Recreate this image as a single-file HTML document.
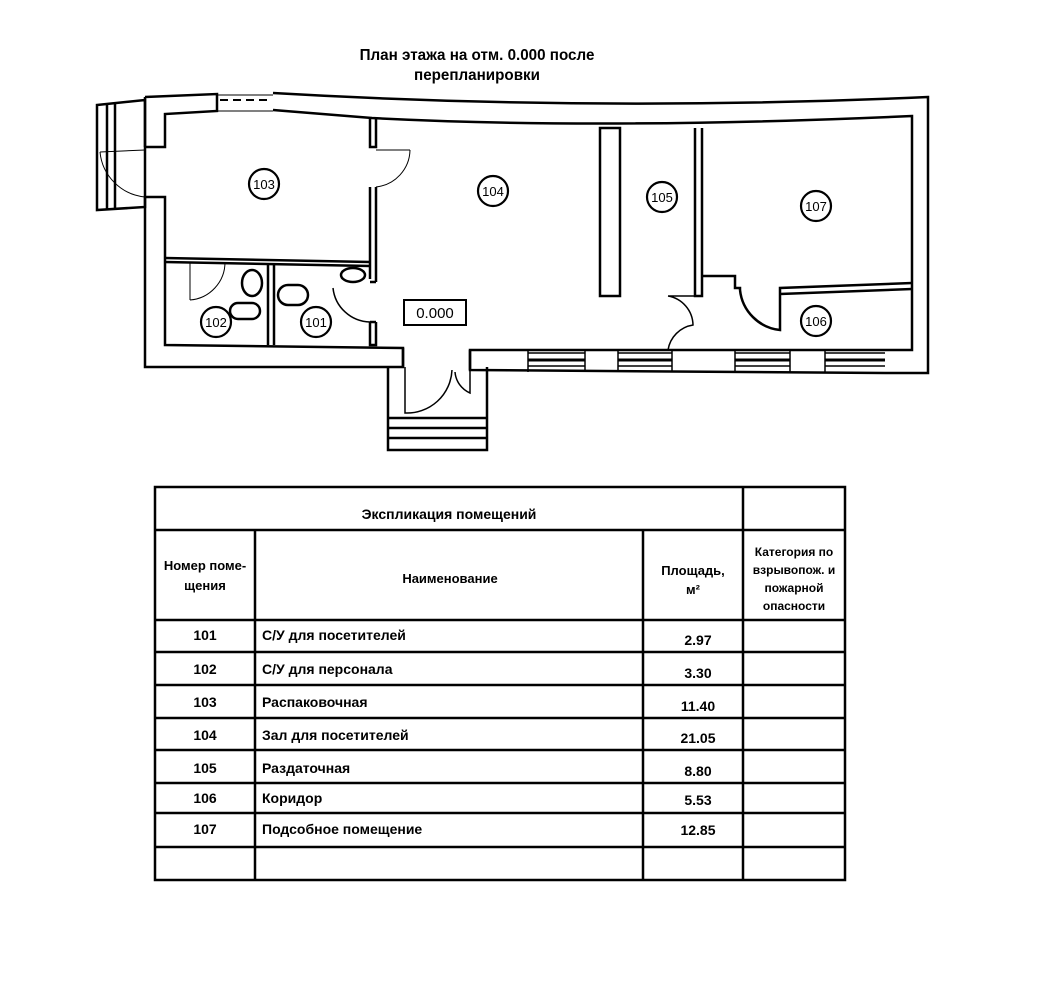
<!DOCTYPE html>
<html><head><meta charset="utf-8"><style>
html,body{margin:0;padding:0;background:#fff}
svg{display:block}
text{font-family:"Liberation Sans",sans-serif;fill:#000}
</style></head><body>
<svg width="1048" height="988" viewBox="0 0 1048 988" xmlns="http://www.w3.org/2000/svg">
<g font-weight="bold" font-size="16" text-anchor="middle">
<text x="477" y="60" transform="translate(477,0) scale(0.95,1) translate(-477,0)">План этажа на отм. 0.000 после</text>
<text x="477" y="80" transform="translate(477,0) scale(0.95,1) translate(-477,0)">перепланировки</text>
</g>
<g fill="none" stroke="#000" stroke-width="2.5">
<path d="M97 105 L145 100 L145 207 L97 210 Z"/>
<path d="M107 104 V209 M115 103 V208"/>
<path d="M100 152 L145 150" stroke-width="1"/>
<path d="M100 152 A50 50 0 0 0 145 197" stroke-width="1"/>
<path d="M145 97 L217 94 V111 L165 114 V147 L145 147"/>
<path d="M145 197 L165 197 V345 L403 348 V367 L145 367 Z"/>
<path d="M145 97 V147"/>
<path d="M217 95 L273 95 M217 111 L273 111" stroke-width="1"/>
<path d="M220 100 H270" stroke-width="2" stroke-dasharray="8 5"/>
<path d="M273 93 Q600 112 928 97 L928 373 L885 373"/>
<path d="M273 110 L372 118 Q600 130 912 116 L912 350 L470 350 L470 370 L885 373"/>
<path d="M528 353 H585 M528 366 H585 M618 353 H672 M618 366 H672 M735 353 H790 M735 366 H790 M825 353 H885 M825 366 H885" stroke-width="1.5"/>
<path d="M528 360 H585 M618 360 H672 M735 360 H790 M825 360 H885" stroke-width="3"/>
<path d="M528 350 V372 M585 350 V372 M618 350 V372 M672 350 V372 M735 350 V372 M790 350 V372 M825 350 V372" stroke-width="1.5"/>
<path d="M370 118 V147 H376 V118 M370 187 V279 M376 187 V282 M370 322 V345 H376 V322 M370 282 H376 M370 322 H376"/>
<path d="M376 150 H410" stroke-width="1"/>
<path d="M410 150 A38 38 0 0 1 376 187" stroke-width="1"/>
<path d="M165 258 L370 262 M165 262 L370 266"/>
<path d="M268 264 V345 M274 264 V345"/>
<path d="M190 262 V300 M190 300 A38 38 0 0 0 225 262" stroke-width="1"/>
<ellipse cx="252" cy="283" rx="10" ry="13"/>
<rect x="230" y="303" width="30" height="16" rx="8"/>
<rect x="278" y="285" width="30" height="20" rx="10"/>
<ellipse cx="353" cy="275" rx="12" ry="7"/>
<path d="M333 288 A38 38 0 0 0 370 322" stroke-width="1.5"/>
<rect x="600" y="128" width="20" height="168"/>
<path d="M695 128 V296 H702 V128"/>
<path d="M668 296 H695 M668 296 A30 30 0 0 1 693 325 A30 30 0 0 0 668 350" stroke-width="1.5"/>
<path d="M702 276 H735 V288 H740 V290"/>
<path d="M740 290 A45 45 0 0 0 780 330 V288 L912 283 M780 294 L912 289"/>
<path d="M403 348 V367 M470 350 V370"/>
<path d="M388 367 V450 H487 V367"/>
<path d="M405 367 V413 A45 45 0 0 0 452 370 M470 370 V393 A25 25 0 0 1 455 372" stroke-width="1.5"/>
<path d="M388 418 H487 M388 428 H487 M388 438 H487"/>
<rect x="404" y="300" width="62" height="25" stroke-width="2"/>
</g>
<g fill="none" stroke="#000" stroke-width="2.2">
<circle cx="264" cy="184" r="15"/><circle cx="493" cy="191" r="15"/>
<circle cx="662" cy="197" r="15"/><circle cx="816" cy="206" r="15"/>
<circle cx="816" cy="321" r="15"/><circle cx="216" cy="322" r="15"/>
<circle cx="316" cy="322" r="15"/>
</g>
<g font-size="13" text-anchor="middle">
<text x="264" y="189">103</text><text x="493" y="196">104</text>
<text x="662" y="202">105</text><text x="816" y="211">107</text>
<text x="816" y="326">106</text><text x="216" y="327">102</text>
<text x="316" y="327">101</text>
<text x="435" y="318" font-size="15">0.000</text>
</g>
<g fill="none" stroke="#000" stroke-width="2.5">
<rect x="155" y="487" width="690" height="393"/>
<path d="M155 530 H845 M155 620 H845 M155 652 H845 M155 685 H845 M155 718 H845 M155 750 H845 M155 783 H845 M155 813 H845 M155 847 H845"/>
<path d="M255 530 V880 M643 530 V880 M743 487 V880"/>
</g>
<g font-size="14" font-weight="bold">
<text x="449" y="519" text-anchor="middle">Экспликация помещений</text>
<g text-anchor="middle" font-size="13">
<text x="205" y="570">Номер поме-</text><text x="205" y="590">щения</text>
<text x="450" y="583">Наименование</text>
<text x="693" y="575">Площадь,</text><text x="693" y="594">м²</text>
<text x="794" y="556" font-size="12">Категория по</text><text x="794" y="574" font-size="12">взрывопож. и</text>
<text x="794" y="592" font-size="12">пожарной</text><text x="794" y="610" font-size="12">опасности</text>
</g>
<g text-anchor="middle">
<text x="205" y="640">101</text><text x="205" y="674">102</text><text x="205" y="707">103</text>
<text x="205" y="740">104</text><text x="205" y="773">105</text><text x="205" y="803">106</text>
<text x="205" y="834">107</text>
<text x="698" y="645">2.97</text><text x="698" y="678">3.30</text><text x="698" y="711">11.40</text>
<text x="698" y="743">21.05</text><text x="698" y="776">8.80</text><text x="698" y="805">5.53</text>
<text x="698" y="835">12.85</text>
</g>
<g>
<text x="262" y="640">С/У для посетителей</text>
<text x="262" y="674">С/У для персонала</text>
<text x="262" y="707">Распаковочная</text>
<text x="262" y="740">Зал для посетителей</text>
<text x="262" y="773">Раздаточная</text>
<text x="262" y="803">Коридор</text>
<text x="262" y="834">Подсобное помещение</text>
</g>
</g>
</svg>
</body></html>
